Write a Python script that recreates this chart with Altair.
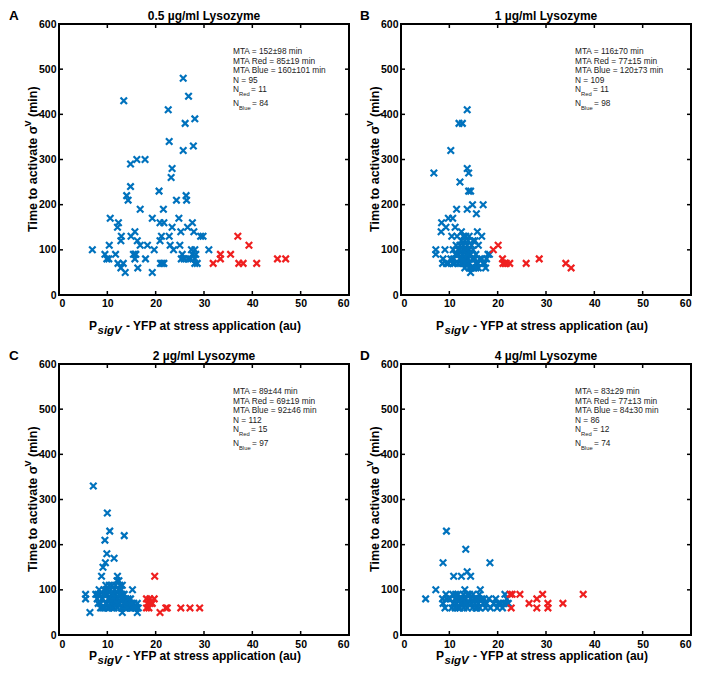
import altair as alt
import pandas as pd

BLUE = "#0072BD"
RED = "#EF1F1F"
FONT = "Liberation Sans"
W, H = 290, 271

titles = ["0.5 µg/ml Lysozyme", "1 µg/ml Lysozyme", "2 µg/ml Lysozyme", "4 µg/ml Lysozyme"]
letters = ["A", "B", "C", "D"]
x_ticks = [0, 10, 20, 30, 40, 50, 60]
y_ticks = [0, 100, 200, 300, 400, 500, 600]

# ---- Panel A ----
a_blue_x = [6.9, 9.5, 9.9, 10.3, 10.6, 10.4, 11.7, 12.1, 12.3, 12.2, 12.8, 12.8, 12.9, 13.3, 13.7, 13.4, 14.0, 14.3,
            14.8, 14.8, 14.9, 15.4, 15.7, 15.7, 15.7, 16.1, 15.9, 16.2, 16.3, 16.8, 16.8, 17.9, 17.8, 18.3, 19.3, 19.7,
            19.3, 20.7, 20.9, 20.9, 21.0, 21.4, 21.2, 21.6, 21.7, 21.7, 22.6, 22.8, 22.8, 23.0, 23.2, 23.4, 23.4, 23.7,
            24.3, 24.8, 25.0, 25.2, 25.3, 25.5, 25.7, 25.7, 25.9, 26.1, 26.3, 26.4, 26.6, 26.7, 26.8, 27.2, 27.4, 27.6,
            27.6, 27.8, 28.1, 28.1, 28.1, 27.9, 28.6, 28.3, 29.3, 29.8, 31.0, 28.1]
a_blue_y = [100, 90, 80, 80, 170, 110, 90, 150, 160, 70, 60, 120, 130, 70, 50, 430, 220, 210, 240, 290, 130, 90, 80, 90,
            140, 300, 90, 120, 60, 110, 190, 80, 300, 110, 170, 100, 50, 230, 120, 160, 70, 70, 130, 190, 160, 70, 410,
            340, 130, 110, 260, 280, 150, 100, 210, 170, 110, 140, 80, 90, 320, 480, 80, 380, 220, 210, 150, 80, 440, 80,
            100, 160, 90, 330, 100, 80, 390, 140, 70, 90, 130, 130, 100, 70]
a_red_x = [31.9, 33.4, 33.4, 35.5, 37.0, 37.2, 38.1, 39.3, 40.9, 45.2, 46.9]
a_red_y = [70, 90, 80, 90, 130, 70, 70, 110, 70, 80, 80]

# ---- Panel B ----
b_blue_x = [6.8, 7.2, 7.2, 8.4, 8.3, 8.7, 8.6, 9.1, 9.3, 9.8, 10.3, 10.7, 10.5, 10.9, 11.1, 11.2, 11.5, 11.4, 11.6, 11.8,
            12.0, 12.2, 12.0, 12.7, 12.5, 12.5, 12.9, 13.0, 13.2, 13.4, 13.7, 13.7, 13.7, 14.0, 14.0, 14.4, 14.8, 14.1,
            13.7, 13.9, 14.2, 14.4, 14.6, 14.9, 15.3, 15.5, 15.6, 15.8, 16.0, 16.3, 16.7, 17.0, 17.3, 17.5, 18.0, 17.7,
            13.2, 12.2, 11.5, 12.5, 13.2, 12.7, 12.2, 13.5, 14.4, 14.9, 13.4, 14.1, 10.3, 9.8, 10.7, 15.9, 16.7, 17.0,
            15.1, 12.5, 13.7, 14.8, 14.6, 12.9, 11.8, 10.8, 11.3, 13.6, 13.9, 12.9, 14.2, 15.5, 16.0, 13.0, 9.4, 13.2,
            14.1, 15.3, 12.3, 15.5, 13.7, 18.3]
b_blue_y = [270, 100, 90, 160, 140, 80, 70, 100, 150, 170, 320, 170, 130, 80, 70, 150, 190, 110, 130, 70, 90, 250, 380,
            380, 140, 80, 100, 70, 120, 90, 410, 190, 280, 270, 230, 230, 200, 100, 110, 80, 70, 50, 60, 120, 80, 70, 180,
            140, 110, 80, 130, 200, 70, 60, 90, 80, 60, 110, 90, 120, 100, 90, 80, 80, 90, 100, 130, 130, 80, 70, 70, 70,
            80, 70, 60, 70, 70, 80, 110, 110, 100, 100, 90, 100, 120, 130, 90, 90, 60, 80, 70, 70, 60, 120, 100, 60, 90,
            90]
b_red_x = [19.1, 20.1, 21.0, 21.1, 21.5, 21.8, 22.5, 25.9, 28.6, 34.1, 35.2]
b_red_y = [100, 110, 80, 70, 70, 70, 70, 70, 80, 70, 60]

# ---- Panel C ----
c_blue_x = [5.5, 5.5, 6.4, 7.1, 7.9, 8.1, 8.5, 8.8, 9.1, 9.6, 9.5, 9.9, 10.0, 10.5, 11.4, 13.5, 9.0, 9.3, 9.7, 9.9,
            10.0, 10.3, 10.6, 10.7, 11.0, 11.2, 11.4, 11.7, 11.9, 11.7, 12.1, 12.0, 12.6, 13.1, 12.4, 12.9, 13.1, 13.1,
            13.4, 13.8, 14.1, 14.5, 14.8, 15.2, 15.5, 15.9, 16.2, 16.2, 16.4, 12.8, 12.4, 12.1, 8.6, 9.4, 10.1, 10.8,
            11.0, 11.5, 12.4, 13.1, 13.6, 14.1, 14.9, 7.6, 8.3, 8.6, 9.2, 9.7, 10.1, 10.6, 11.5, 12.1, 12.6, 12.9, 13.3,
            13.8, 14.7, 15.4, 8.0, 8.9, 9.5, 10.4, 10.9, 11.3, 11.8, 12.3, 12.7, 13.5, 14.3, 9.8, 10.2, 11.1, 12.0, 14.0,
            15.0, 16.0, 9.0]
c_blue_y = [90, 80, 50, 330, 80, 70, 90, 130, 150, 160, 210, 180, 270, 230, 170, 220, 80, 100, 110, 70, 90, 60, 80, 100,
            110, 70, 60, 90, 80, 110, 130, 120, 110, 110, 120, 100, 60, 50, 70, 80, 60, 70, 80, 100, 70, 60, 70, 50, 60,
            80, 70, 60, 70, 60, 60, 90, 80, 100, 90, 90, 60, 70, 60, 90, 100, 60, 90, 70, 100, 70, 70, 80, 70, 60, 80, 70,
            60, 60, 90, 80, 90, 110, 60, 80, 70, 100, 90, 90, 80, 100, 80, 90, 70, 60, 70, 60, 60]
c_red_x = [18.1, 18.3, 18.1, 18.6, 18.8, 18.9, 19.3, 19.7, 19.8, 20.9, 22.1, 22.4, 25.2, 27.1, 29.1]
c_red_y = [80, 70, 60, 60, 80, 70, 70, 80, 130, 50, 60, 60, 60, 60, 60]

# ---- Panel D ----
d_blue_x = [5.1, 7.2, 8.7, 8.6, 8.7, 9.1, 9.3, 9.4, 10.9, 10.7, 10.8, 11.2, 11.5, 11.8, 11.8, 12.2, 12.5, 12.7, 12.9,
            13.2, 13.4, 13.4, 13.7, 13.7, 13.9, 14.4, 14.4, 14.8, 14.9, 15.3, 15.5, 15.6, 16.0, 16.2, 16.4, 16.3, 17.0,
            17.5, 18.2, 18.4, 18.5, 19.6, 20.1, 20.6, 21.0, 21.5, 21.7, 21.9, 22.2, 10.1, 10.5, 11.3, 12.3, 13.0, 13.2,
            14.2, 14.6, 15.1, 15.7, 16.7, 12.2, 11.6, 12.7, 13.7, 16.0, 17.2, 17.7, 19.2, 19.9, 21.3, 13.5, 9.4, 15.5,
            11.2]
d_blue_y = [80, 100, 160, 80, 70, 60, 90, 230, 130, 90, 70, 80, 70, 90, 60, 80, 130, 70, 90, 100, 190, 80, 140, 60, 70,
            130, 80, 60, 90, 70, 60, 80, 70, 90, 100, 60, 70, 60, 80, 160, 60, 80, 70, 70, 60, 90, 70, 80, 70, 80, 60, 90,
            70, 60, 70, 90, 70, 80, 60, 80, 60, 80, 80, 90, 80, 80, 70, 70, 60, 70, 70, 80, 80, 60]
d_red_x = [22.6, 23.0, 22.8, 24.6, 26.5, 28.1, 29.3, 28.1, 30.4, 30.4, 33.5, 37.7]
d_red_y = [90, 90, 60, 90, 70, 80, 90, 60, 70, 60, 70, 90]

# ---- Annotations ----
ann_lines = [
    ["MTA = 152±98 min", "MTA Red = 85±19 min", "MTA Blue = 160±101 min", "N = 95"],
    ["MTA = 116±70 min", "MTA Red = 77±15 min", "MTA Blue = 120±73 min", "N = 109"],
    ["MTA = 89±44 min", "MTA Red = 69±19 min", "MTA Blue = 92±46 min", "N = 112"],
    ["MTA = 83±29 min", "MTA Red = 77±13 min", "MTA Blue = 84±30 min", "N = 86"],
]
n_red = ["11", "11", "15", "12"]
n_blue = ["84", "98", "97", "74"]


def txt(text, x, y, size, bold=False, italic=False, angle=0, color="black", align="left"):
    return alt.Chart(pd.DataFrame({"t": [text]})).mark_text(
        align=align, baseline="alphabetic", fontSize=size, font=FONT,
        fontWeight="bold" if bold else "normal",
        fontStyle="italic" if italic else "normal",
        angle=angle, color=color,
    ).encode(text="t:N", x=alt.value(x), y=alt.value(y))


def panel(i, bx, by, rx, ry, row):
    col = i % 2
    xs = alt.Scale(domain=[0, 60], nice=False)
    ys = alt.Scale(domain=[0, 600], nice=False)
    pts = pd.DataFrame({"x": bx + rx, "y": by + ry,
                        "g": ["Blue"] * len(bx) + ["Red"] * len(rx)})
    x_axis = dict(values=x_ticks, title=None, grid=False, ticks=False, domain=False,
                  labelFontSize=10.5, labelFontWeight="bold", labelFont=FONT, labelColor="black",
                  labelPadding=3 if row == 0 else 4)
    if col == 1:
        x_axis["labelFlush"] = True
    points = alt.Chart(pts).mark_point(
        shape="M-1,-1L1,1M-1,1L1,-1", filled=False, strokeWidth=2.2, size=42, opacity=1
    ).encode(
        x=alt.X("x:Q", scale=xs, axis=alt.Axis(**x_axis)),
        y=alt.Y("y:Q", scale=ys, axis=alt.Axis(
            values=y_ticks, title=None, grid=False, ticks=False, domain=False,
            labelFontSize=10.5, labelFontWeight="bold", labelFont=FONT, labelColor="black",
            labelPadding=3)),
        color=alt.Color("g:N", scale=alt.Scale(domain=["Blue", "Red"], range=[BLUE, RED]), legend=None),
    )
    yt = pd.DataFrame({"y": y_ticks})
    xt = pd.DataFrame({"x": x_ticks})
    rule = dict(color="black", strokeWidth=1.5)
    tl = alt.Chart(yt).mark_rule(**rule).encode(
        y=alt.Y("y:Q", scale=ys), x=alt.value(0), x2=alt.value(4))
    tr = alt.Chart(yt).mark_rule(**rule).encode(
        y=alt.Y("y:Q", scale=ys), x=alt.value(W - 4), x2=alt.value(W))
    tb = alt.Chart(xt).mark_rule(**rule).encode(
        x=alt.X("x:Q", scale=xs), y=alt.value(H - 4), y2=alt.value(H))
    tt = alt.Chart(xt).mark_rule(**rule).encode(
        x=alt.X("x:Q", scale=xs), y=alt.value(0), y2=alt.value(4))

    layers = [points, tl, tr, tb, tt]

    # annotation block
    ax = 174
    grey = "#222222"
    for text, yy in zip(ann_lines[i], [30, 39.5, 49, 58.5]):
        layers.append(txt(text, ax, yy, 8.3, color=grey))
    layers.append(txt("N", ax, 68, 8.3, color=grey))
    layers.append(txt("Red", ax + 6.0, 72, 5.8, color=grey))
    layers.append(txt("= " + n_red[i], ax + 18.0, 68, 8.3, color=grey))
    layers.append(txt("N", ax, 81.5, 8.3, color=grey))
    layers.append(txt("Blue", ax + 6.0, 85.5, 5.8, color=grey))
    layers.append(txt("= " + n_blue[i], ax + 19.0, 81.5, 8.3, color=grey))

    # x-axis title with subscript
    px = 30 if col == 0 else 35
    base = H + (35 if row == 0 else 25)
    layers.append(txt("P", px, base, 12, bold=True))
    layers.append(txt("sigV", px + 8.5, base + 4, 11.5, bold=True, italic=True))
    layers.append(txt("- YFP at stress application (au)", px + 37, base, 12, bold=True))

    # y-axis title with superscript (rotated)
    y0 = H / 2 + 72.5
    layers.append(txt("Time to activate σ", -22.5, y0, 12.5, bold=True, angle=270))
    layers.append(txt("V", -28.5, y0 - 105.6, 9, bold=True, angle=270))
    layers.append(txt("(min)", -22.5, y0 - 115.0, 12.5, bold=True, angle=270))

    # panel title and letter
    layers.append(txt(titles[i], W / 2, -4, 12, bold=True, align="center"))
    layers.append(txt(letters[i], -50 if col == 0 else -41, -4, 13.5, bold=True))

    return alt.layer(*layers).properties(width=W, height=H)


pA = panel(0, a_blue_x, a_blue_y, a_red_x, a_red_y, 0)
pB = panel(1, b_blue_x, b_blue_y, b_red_x, b_red_y, 0)
pC = panel(2, c_blue_x, c_blue_y, c_red_x, c_red_y, 1)
pD = panel(3, d_blue_x, d_blue_y, d_red_x, d_red_y, 1)

chart = alt.vconcat(
    alt.hconcat(pA, pB, spacing=8),
    alt.hconcat(pC, pD, spacing=8),
    spacing=10,
).configure_view(stroke="black", strokeWidth=2).properties(padding=0, background="white")

chart.save("out.html", embed_options={"renderer": "svg", "actions": False})
